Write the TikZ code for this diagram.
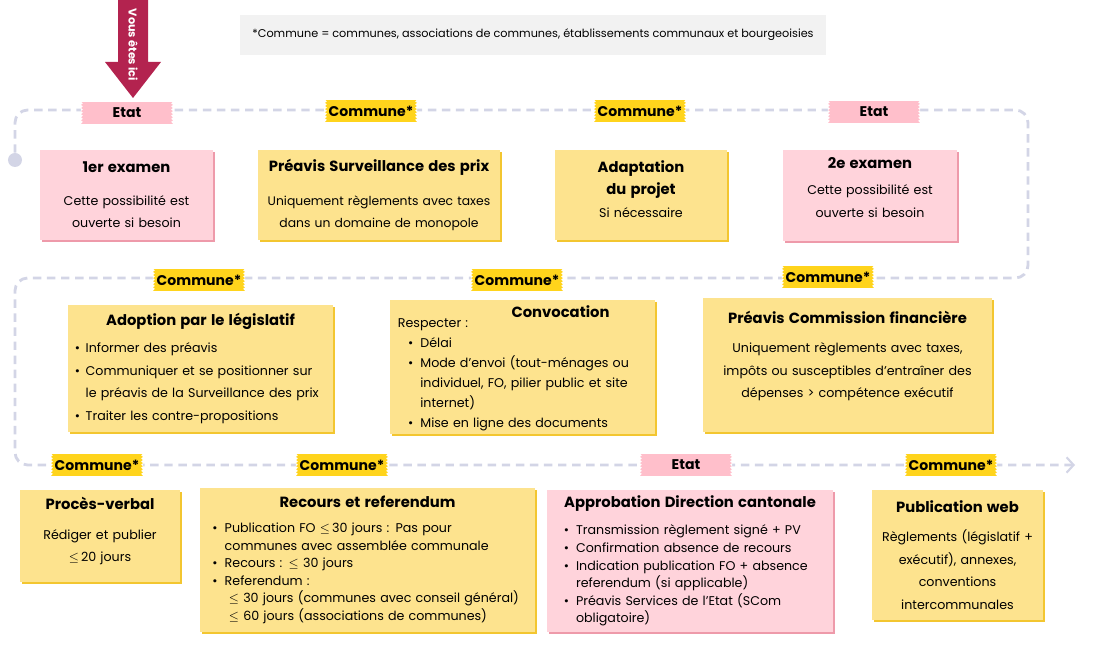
\documentclass[tikz,border=0pt]{standalone}
\usepackage{fontspec}
\setmainfont{Poppins}
\usepackage{enumitem}
\usetikzlibrary{arrows.meta,positioning,shadows}
\definecolor{etatPink}{HTML}{FFD3DB}
\definecolor{etatEdge}{HTML}{EE9AAA}
\definecolor{etatTape}{HTML}{FFBFCB}
\definecolor{comYellow}{HTML}{FDE38E}
\definecolor{comEdge}{HTML}{F3C630}
\definecolor{comTape}{HTML}{FFD41C}
\definecolor{flowGray}{HTML}{D3D5E6}
\definecolor{noteGray}{HTML}{F2F2F2}
\definecolor{hereRed}{HTML}{B3234F}
\newcommand{\cardtitle}{\fontsize{10.5}{15.5}\selectfont\bfseries}
\newcommand{\tapefont}{\fontsize{10}{12}\selectfont\bfseries}
\newcommand{\cardbody}{\fontsize{9}{16}\selectfont\hyphenpenalty=10000}
\newcommand{\cardmid}{\fontsize{9}{14.2}\selectfont\hyphenpenalty=10000}
\newcommand{\cardtight}{\fontsize{9}{12.5}\selectfont\hyphenpenalty=10000}
\newcommand{\justifytext}{\leftskip=0pt\rightskip=0pt\parfillskip=0pt plus 1fil\relax}
% empty space kept at the top or bottom of a card
\newcommand{\cardpad}[1]{\par\kern#1\hrule height 0pt width 0pt\relax}
\setlist[itemize]{label=\textbullet, leftmargin=12pt, labelsep=5pt,
  itemsep=0pt, parsep=0pt, topsep=0pt, partopsep=0pt}

\begin{document}
\begin{tikzpicture}[
  x=0.025cm, y=-0.025cm,
  flow/.style={draw=flowGray, line width=2pt, dash pattern=on 6pt off 4pt,
               rounded corners=9pt},
  tape/.style={minimum width=2.3cm, minimum height=0.56cm, inner sep=2pt,
               font=\tapefont,
               path picture={
                 \foreach \k in {0,...,7} {
                   \fill[white] ([yshift=-\k*2.2pt]path picture bounding box.north west)
                     -- ++(1.3pt,-1.1pt) -- ++(-1.3pt,-1.1pt) -- cycle;
                   \fill[white] ([yshift=-\k*2.2pt]path picture bounding box.north east)
                     -- ++(-1.3pt,-1.1pt) -- ++(1.3pt,-1.1pt) -- cycle;
                 }}},
  etattape/.style={tape, fill=etatTape},
  comtape/.style={tape, fill=comTape},
  card/.style={inner xsep=0.2cm, inner ysep=2pt, font=\cardbody, align=center},
  etatcard/.style={card, fill=etatPink, drop shadow={fill=etatEdge, opacity=1,
                   shadow xshift=1.5pt, shadow yshift=-1.5pt}},
  comcard/.style={card, fill=comYellow, drop shadow={fill=comEdge, opacity=1,
                  shadow xshift=1.5pt, shadow yshift=-1.5pt}},
]
  \useasboundingbox (0,0) rectangle (1113,655);

  % Vous etes ici
  \fill[hereRed] (118,0) -- (148,0) -- (148,62) -- (161,62) -- (133,98)
    -- (105,62) -- (118,62) -- cycle;
  \node[rotate=-90, text=white, font=\fontsize{8}{9}\selectfont\bfseries]
    (here) at (133,45) {Vous êtes ici};

  \node[fill=noteGray, minimum width=14.65cm, minimum height=1cm,
        font=\fontsize{8}{10}\selectfont] (note) at (533,35)
    {*Commune = communes, associations de communes, établissements communaux et bourgeoisies};

  % the process line
  \node[circle, fill=flowGray, minimum size=0.35cm, inner sep=0pt] (start) at (15,160) {};
  \coordinate (c1) at (15,110);
  \coordinate (c2) at (1028,110);
  \coordinate (c3) at (1028,278);
  \coordinate (c4) at (15,278);
  \coordinate (c5) at (15,465);
  \coordinate (fin) at (1075,465);
  \draw[flow, -{Straight Barb[length=5pt, width=11pt, line width=1.5pt]}]
    (start) -- (c1) -- (c2) -- (c3) -- (c4) -- (c5) -- (fin);

  % actors
  \node[etattape] (etat1) at (127,113) {Etat};
  \node[comtape] (com1) at (371,111) {Commune*};
  \node[comtape] (com2) at (640,111) {Commune*};
  \node[etattape] (etat2) at (874,112) {Etat};
  \node[comtape] (com3) at (199,280) {Commune*};
  \node[comtape] (com4) at (517,280) {Commune*};
  \node[comtape] (com5) at (828,277) {Commune*};
  \node[comtape] (com6) at (97,465) {Commune*};
  \node[comtape] (com7) at (342,465) {Commune*};
  \node[etattape] (etat3) at (686,465) {Etat};
  \node[comtape] (com8) at (951,465) {Commune*};

  % first row
  \node[etatcard, text width=3.93cm, minimum height=2.25cm] (exam1) at (126.5,195)
    {{\cardtitle 1er examen\par}\vspace{7pt}Cette possibilité est\\ouverte si besoin};
  \node[comcard, text width=5.65cm, minimum height=2.25cm,
        font=\fontsize{8.8}{16}\selectfont] (prix) at (379,195)
    {{\cardtitle Préavis Surveillance des prix\par}\vspace{8pt}\mbox{Uniquement règlements avec taxes}\\dans un domaine de monopole};
  \node[comcard, text width=3.9cm, minimum height=2.25cm] (projet) at (641,195)
    {{\cardtitle Adaptation\\du projet\par}Si nécessaire\cardpad{8.5pt}};
  \node[etatcard, text width=3.95cm, minimum height=2.28cm] (exam2) at (870,195.5)
    {{\cardtitle 2e examen\par}\vspace{3pt}Cette possibilité est\\ouverte si besoin\cardpad{11.5pt}};

  % second row
  \node[comcard, text width=6.23cm, minimum height=3.18cm] (adoption) at (200.5,368.5)
    {{\cardtitle Adoption par le législatif\par}\vspace{3pt}\justifytext
     \begin{itemize}[leftmargin=7pt, labelsep=4pt]
       \item Informer des préavis
       \item Communiquer et se positionner sur le préavis de la Surveillance des prix
       \item Traiter les contre-propositions
     \end{itemize}};
  \node[comcard, text width=6.23cm, minimum height=3.25cm, font=\cardmid] (convoc) at (522.5,367)
    {\hrule height 0pt width 0pt\kern2pt
     \makebox[\linewidth][c]{\hspace{1.9cm}\cardtitle Convocation}\par\vspace{-7pt}
     \raggedright Respecter :\par
     \begin{itemize}[leftmargin=16pt]
       \item Délai
       \item Mode d’envoi (tout-ménages ou individuel, FO, pilier public et site internet)
       \item Mise en ligne des documents
     \end{itemize}};
  \node[comcard, text width=6.83cm, minimum height=3.35cm] (finances) at (847.5,365)
    {{\cardtitle Préavis Commission financière\par}\vspace{5pt}Uniquement règlements avec taxes,\\impôts ou susceptibles d’entraîner des\\dépenses > compétence exécutif\cardpad{13pt}};

  % third row
  \node[comcard, text width=3.6cm, minimum height=2.3cm] (pv) at (100,536)
    {{\cardtitle Procès-verbal\par}\vspace{5pt}Rédiger et publier\\$\leq$\,20 jours\cardpad{7pt}};
  \node[comcard, text width=7.98cm, minimum height=3.6cm, font=\cardtight] (recours) at (367.5,560)
    {{\cardtitle Recours et referendum\par}\vspace{5pt}\raggedright
     \begin{itemize}
       \item Publication FO $\leq$\,30 jours : Pas pour\newline communes avec assemblée communale
       \item Recours : $\leq$\ 30 jours
       \item Referendum :\newline
         \hspace*{3pt}$\leq$ 30 jours (communes avec conseil général)\newline
         \hspace*{3pt}$\leq$ 60 jours (associations de communes)
     \end{itemize}};
  \node[etatcard, text width=6.75cm, minimum height=3.55cm, font=\cardtight] (approbation) at (690,561)
    {{\cardtitle Approbation Direction cantonale\par}\vspace{7pt}\raggedright
     \begin{itemize}[leftmargin=15pt]
       \item Transmission règlement signé + PV
       \item Confirmation absence de recours
       \item Indication publication FO + absence\newline referendum (si applicable)
       \item Préavis Services de l’Etat (SCom\newline obligatoire)
     \end{itemize}};
  \node[comcard, text width=3.88cm, minimum height=3.25cm] (web) at (957.5,555)
    {{\cardtitle Publication web\par}\vspace{5pt}Règlements (législatif +\\exécutif), annexes,\\conventions\\intercommunales};
\end{tikzpicture}
\end{document}
